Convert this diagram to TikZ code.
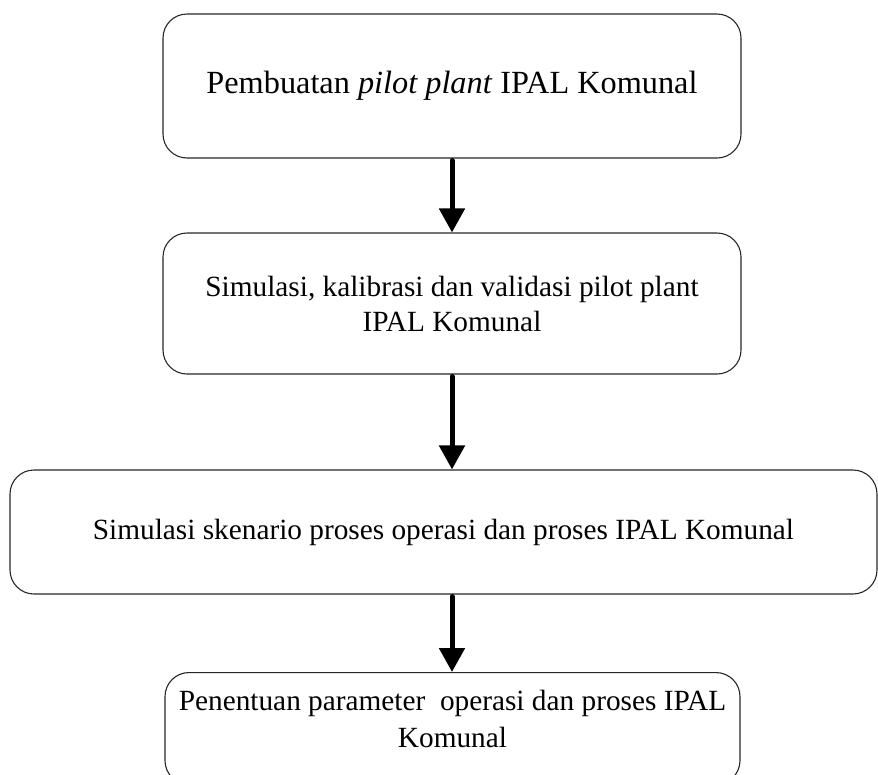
\documentclass[tikz,border=0pt]{standalone}
\usepackage{fontspec}
\setmainfont{Liberation Serif}
\usetikzlibrary{arrows.meta}
\begin{document}
\begin{tikzpicture}[x=1pt,y=-1pt,
  box/.style={draw=black!85, line width=1.1pt, rounded corners=24pt, inner sep=0pt,
    align=center, font=\fontsize{29.3}{35}\selectfont},
  txt/.style={inner sep=0pt, align=center, font=\fontsize{29.3}{37.5}\selectfont},
  flow/.style={line width=5pt, line cap=round, -{Triangle[width=25pt,length=24pt]}}]
\useasboundingbox (0,0) rectangle (878,774);
\clip (0,0) rectangle (878,774);
\node[box, minimum width=578, minimum height=144, font=\fontsize{32.3}{37}\selectfont] (b1) at (452,86)
  {\raisebox{-2pt}{Pembuatan \textit{pilot plant} IPAL Komunal}};
\node[box, minimum width=578, minimum height=141] (b2) at (452,303.5)
  {Simulasi, kalibrasi dan validasi pilot plant\\IPAL Komunal};
\node[box, minimum width=867, minimum height=124] (b3) at (443.5,532)
  {Simulasi skenario proses operasi dan proses IPAL Komunal};
\node[box, minimum width=575, minimum height=112, anchor=north] (b4) at (452.5,672) {};
\node[txt] (t4) at (452.5,719) {Penentuan parameter~ operasi dan proses IPAL\\Komunal};
\draw[flow] ([yshift=-2pt]b1.south) -- (b2.north);
\draw[flow] ([yshift=-2pt]b2.south) -- (b2.south |- b3.north);
\draw[flow] ([yshift=-2pt]b3.south -| b2.south) -- (b4.north -| b2.south);
\end{tikzpicture}
\end{document}
